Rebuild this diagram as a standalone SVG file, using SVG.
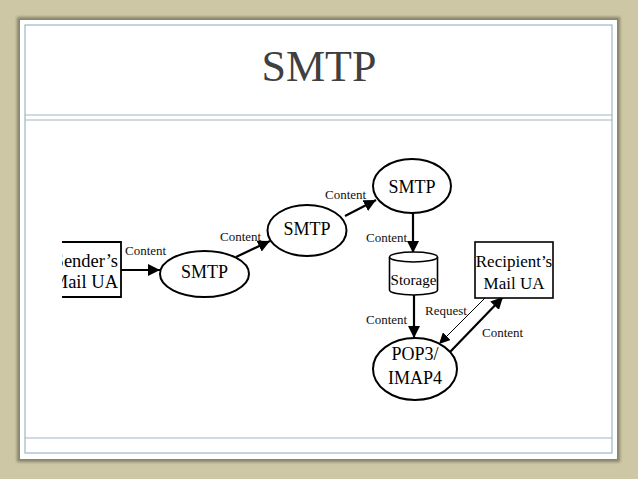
<svg xmlns="http://www.w3.org/2000/svg" width="638" height="479" viewBox="0 0 638 479">
<defs>
<style>
.n{fill:#fff;stroke:#000;stroke-width:2}
.t{font-family:"Liberation Serif","Times New Roman",serif;font-size:17px;fill:#000;text-anchor:middle}
.l{font-family:"Liberation Serif","Times New Roman",serif;font-size:13px;fill:#111}
.c{stroke:#000;stroke-width:2.2;fill:none}
.thin{stroke:#000;stroke-width:1;fill:none}
.frame{fill:none;stroke:#9fb6c3;stroke-width:1.2}
</style>
<marker id="ah" viewBox="0 0 10 10" refX="10" refY="5" markerWidth="5.5" markerHeight="5.5" orient="auto" markerUnits="strokeWidth">
<path d="M0,0 L10,5 L0,10 z" fill="#000"/>
</marker>
<marker id="ahs" viewBox="0 0 10 10" refX="10" refY="5" markerWidth="11" markerHeight="11" orient="auto" markerUnits="strokeWidth">
<path d="M0,0 L10,5 L0,10 z" fill="#000"/>
</marker>
<clipPath id="clipL"><rect x="62" y="230" width="80" height="80"/></clipPath>
<filter id="sh" x="-5%" y="-5%" width="110%" height="110%">
<feGaussianBlur stdDeviation="1.5"/>
</filter>
</defs>
<rect width="638" height="479" fill="#cec7a5"/>
<rect x="17" y="17" width="603" height="445" fill="#85826c" filter="url(#sh)"/>
<rect x="20" y="20" width="597" height="439" fill="#fff"/>
<rect class="frame" x="25" y="25" width="587" height="428"/>
<line class="frame" x1="25" y1="115" x2="612" y2="115"/>
<line class="frame" x1="25" y1="120" x2="612" y2="120"/>
<line class="frame" x1="25" y1="438" x2="612" y2="438"/>
<text x="319" y="81" font-family="Liberation Serif,'Times New Roman',serif" font-size="44" fill="#404040" text-anchor="middle">SMTP</text>

<g id="connectors">
<line class="c" x1="121" y1="270" x2="160" y2="270" marker-end="url(#ah)"/>
<line class="c" x1="236" y1="257" x2="270" y2="241" marker-end="url(#ah)"/>
<line class="c" x1="345" y1="216" x2="376" y2="200" marker-end="url(#ah)"/>
<line class="c" x1="413" y1="213" x2="413" y2="253" marker-end="url(#ah)"/>
<line class="c" x1="414" y1="295" x2="414" y2="338" marker-end="url(#ah)"/>
<line class="thin" x1="486" y1="297" x2="439" y2="344" marker-end="url(#ahs)"/>
<line class="c" x1="450" y1="352" x2="503" y2="297" marker-end="url(#ah)"/>
<text class="l" x="125" y="255">Content</text>
<text class="l" x="220" y="241">Content</text>
<text class="l" x="325" y="199">Content</text>
<text class="l" x="366" y="242">Content</text>
<text class="l" x="366" y="324">Content</text>
<text class="l" x="425" y="315">Request</text>
<text class="l" x="482" y="337">Content</text>
</g>

<g id="sender">
<path d="M62,242 H121 V297 H62" fill="none" stroke="#000" stroke-width="1.8"/>
<g clip-path="url(#clipL)">
<text class="t" x="118" y="267" style="text-anchor:end;font-size:18.5px">Sender’s</text>
<text class="t" x="118" y="288" style="text-anchor:end;font-size:18.5px">Mail UA</text>
</g>
</g>

<g id="smtp1">
<ellipse class="n" cx="204.5" cy="274" rx="44.5" ry="23"/>
<text class="t" x="204.5" y="278" style="font-size:18px">SMTP</text>
</g>

<g id="smtp2">
<ellipse class="n" cx="307" cy="230.5" rx="39.5" ry="25.5"/>
<text class="t" x="307" y="235" style="font-size:18px">SMTP</text>
</g>

<g id="smtp3">
<ellipse class="n" cx="412" cy="186" rx="39" ry="27"/>
<text class="t" x="412" y="193" style="font-size:18px">SMTP</text>
</g>

<g id="storage">
<path d="M389.5,257 V290 A24,5 0 0 0 437.5,290 V257" fill="#fff" stroke="#000" stroke-width="1.6"/>
<ellipse cx="413.5" cy="257" rx="24" ry="5" fill="#fff" stroke="#000" stroke-width="1.6"/>
<text class="t" x="413.5" y="285" style="font-size:15px">Storage</text>
</g>

<g id="pop3">
<ellipse class="n" cx="415" cy="369" rx="42" ry="31"/>
<text class="t" x="415" y="360" style="font-size:18px">POP3/</text>
<text class="t" x="415" y="384" style="font-size:18px">IMAP4</text>
</g>

<g id="recipient">
<rect x="475" y="242" width="78" height="56" fill="#fff" stroke="#000" stroke-width="1.6"/>
<text class="t" x="514" y="267">Recipient’s</text>
<text class="t" x="514" y="289">Mail UA</text>
</g>
</svg>
